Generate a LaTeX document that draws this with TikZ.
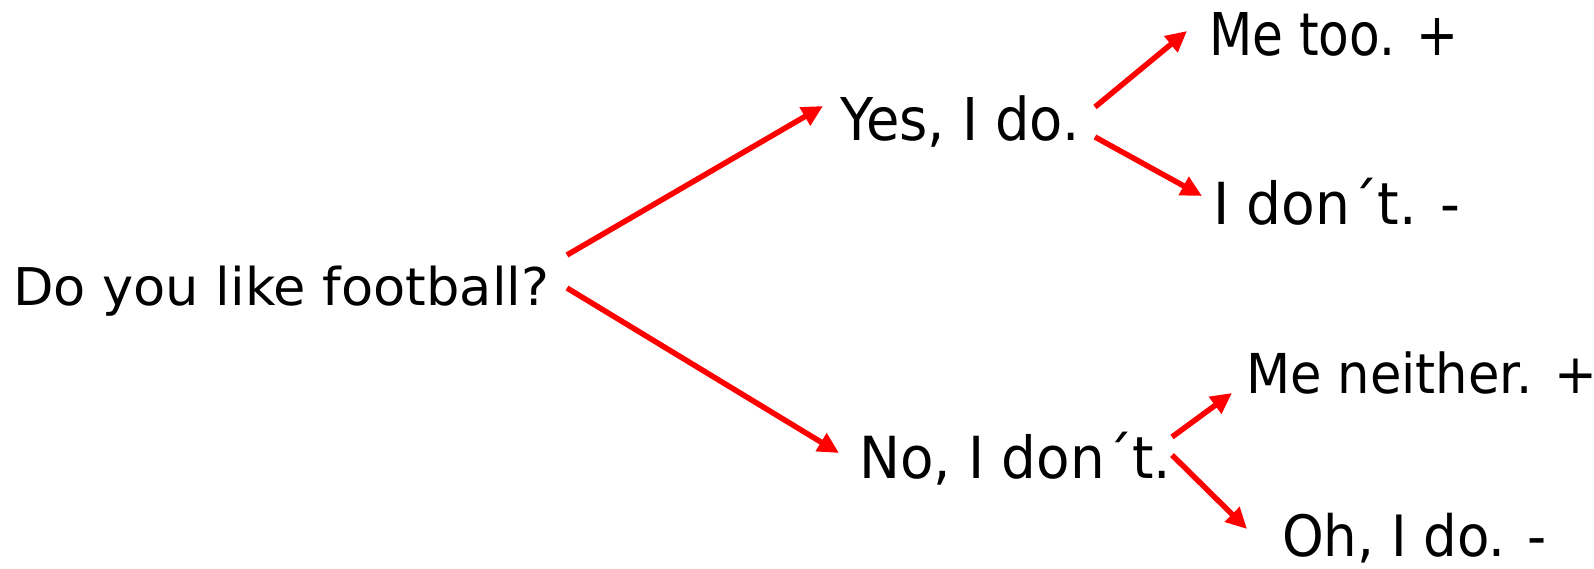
\documentclass[tikz,border=0pt]{standalone}
\usepackage{fontspec}
\setmainfont{DejaVu Sans}
\usetikzlibrary{arrows.meta}
\begin{document}
\begin{tikzpicture}[x=1pt,y=-1pt,
  lbl/.style={anchor=base west,inner sep=0pt,outer sep=0pt},
  arr/.style={draw=red,line width=5.5pt,-{Triangle[length=21pt,width=20pt]}}]
\useasboundingbox (0,0) rectangle (1594,569);
\node[lbl] (q) at (13,305) {\fontsize{52pt}{60pt}\selectfont\scalebox{1.012}[1]{Do you like football?}};
\node[lbl] (yes) at (840,141) {\fontsize{59pt}{60pt}\selectfont\scalebox{0.92}[1]{Yes, I do.}};
\node[lbl] (metoo) at (1209,56) {\fontsize{59pt}{60pt}\selectfont\scalebox{0.85}[1]{Me too. +}};
\node[lbl] (idont) at (1213,225) {\fontsize{58pt}{60pt}\selectfont\scalebox{0.95}[1]{I don´t. -}};
\node[lbl] (no) at (859,478) {\fontsize{58pt}{60pt}\selectfont\scalebox{0.945}[1]{No, I don´t.}};
\node[lbl] (neither) at (1246,393) {\fontsize{55pt}{60pt}\selectfont\scalebox{0.93}[1]{Me neither. +}};
\node[lbl] (oh) at (1282,556) {\fontsize{57pt}{60pt}\selectfont\scalebox{0.93}[1]{Oh, I do. -}};
\coordinate (q-up) at (567,255);
\coordinate (yes-in) at (823,106);
\coordinate (q-down) at (567,288);
\coordinate (no-in) at (839,453);
\coordinate (yes-up) at (1095,107);
\coordinate (metoo-in) at (1187,31);
\coordinate (yes-down) at (1095,137);
\coordinate (idont-in) at (1202,196);
\coordinate (no-up) at (1172,437);
\coordinate (neither-in) at (1232,393);
\coordinate (no-down) at (1172,455);
\coordinate (oh-in) at (1247,529);
\draw[arr] (q-up) -- (yes-in);
\draw[arr] (q-down) -- (no-in);
\draw[arr] (yes-up) -- (metoo-in);
\draw[arr] (yes-down) -- (idont-in);
\draw[arr] (no-up) -- (neither-in);
\draw[arr] (no-down) -- (oh-in);
\end{tikzpicture}
\end{document}
